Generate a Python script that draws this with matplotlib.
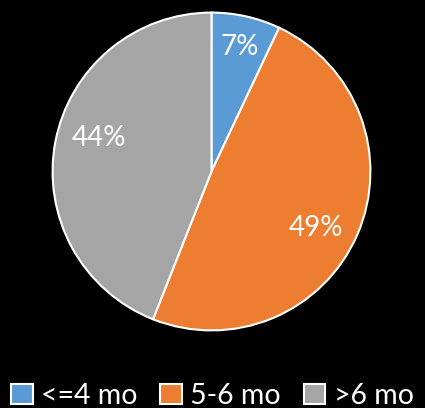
import numpy as np
import matplotlib.pyplot as plt

labels = ["<=4 mo", "5-6 mo", ">6 mo"]
values = [7, 49, 44]
colors = ["#5B9BD5", "#ED7D31", "#A5A5A5"]

plt.rcParams["font.family"] = ["Lato", "DejaVu Sans"]

fig = plt.figure(figsize=(4.25, 4.08), dpi=100, facecolor="black")
ax = fig.add_axes([51 / 425, (408 - 332) / 408, 321 / 425, 321 / 408])
ax.set_facecolor("black")

wedges, texts, autotexts = ax.pie(
    values, colors=colors, startangle=90, counterclock=False,
    autopct="%d%%", pctdistance=0.78,
    wedgeprops=dict(edgecolor="white", linewidth=1.5),
    textprops=dict(color="white", fontsize=20),
)

# nudge the percent labels a little, like Excel's placement
for w, t, (dr, dang) in zip(wedges, autotexts, [(0.8, 0), (0.75, -5), (0.74, -6)]):
    ang = np.deg2rad((w.theta1 + w.theta2) / 2 + dang)
    t.set_position((dr * np.cos(ang), dr * np.sin(ang)))

ax.set_xlim(-1.01, 1.01)
ax.set_ylim(-1.01, 1.01)
ax.set_aspect("equal")

leg = fig.legend(wedges, labels, loc="lower center", ncol=3, frameon=False,
                 bbox_to_anchor=(0.5, -0.065), fontsize=20.5, labelcolor="white",
                 handlelength=0.75, handleheight=0.75, handletextpad=0.3,
                 columnspacing=0.8)

fig.savefig("out.png", dpi=100, facecolor="black")
